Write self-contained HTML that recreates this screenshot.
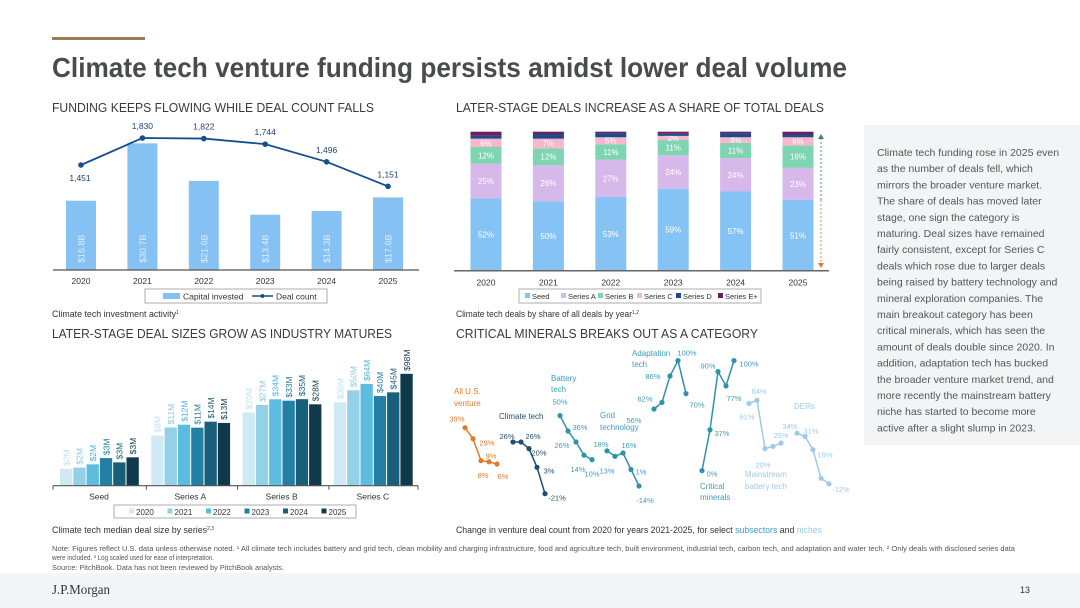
<!DOCTYPE html>
<html><head><meta charset="utf-8">
<style>
html,body{margin:0;padding:0;background:#fff;}
svg{display:block;font-family:"Liberation Sans",sans-serif;}
</style></head>
<body>
<svg id="s" width="1080" height="608" viewBox="0 0 1080 608" xmlns="http://www.w3.org/2000/svg">
<rect x="0" y="0" width="1080" height="608" fill="#fff"/>
<rect x="52" y="37" width="93" height="3" fill="#9b7a55"/>
<text x="52" y="77" font-size="28" font-weight="bold" fill="#4a4b4d" textLength="795" lengthAdjust="spacingAndGlyphs">Climate tech venture funding persists amidst lower deal volume</text>
<g font-size="13" fill="#3a3a3a">
<text x="52" y="112" textLength="322" lengthAdjust="spacingAndGlyphs">FUNDING KEEPS FLOWING WHILE DEAL COUNT FALLS</text>
<text x="456" y="112" textLength="368" lengthAdjust="spacingAndGlyphs">LATER-STAGE DEALS INCREASE AS A SHARE OF TOTAL DEALS</text>
<text x="52" y="338" textLength="340" lengthAdjust="spacingAndGlyphs">LATER-STAGE DEAL SIZES GROW AS INDUSTRY MATURES</text>
<text x="456" y="338" textLength="302" lengthAdjust="spacingAndGlyphs">CRITICAL MINERALS BREAKS OUT AS A CATEGORY</text>
</g>
<rect x="864" y="125" width="216" height="320" fill="#f3f4f6"/>
<g id="side" font-size="10.5" fill="#555"></g>
<g font-size="9" fill="#333">
<text x="52" y="317"><tspan textLength="124" lengthAdjust="spacingAndGlyphs">Climate tech investment activity</tspan><tspan font-size="5" dy="-3">1</tspan></text>
<text x="456" y="317"><tspan textLength="176" lengthAdjust="spacingAndGlyphs">Climate tech deals by share of all deals by year</tspan><tspan font-size="5" dy="-3">1,2</tspan></text>
<text x="52" y="533"><tspan textLength="155" lengthAdjust="spacingAndGlyphs">Climate tech median deal size by series</tspan><tspan font-size="5" dy="-3">2,3</tspan></text>
<text x="456" y="533" textLength="366" lengthAdjust="spacingAndGlyphs">Change in venture deal count from 2020 for years 2021-2025, for select <tspan fill="#3a9ec0">subsectors</tspan> and <tspan fill="#9fcbe8">niches</tspan></text>
</g>
<g font-size="7.5" fill="#555">
<text x="52" y="551" textLength="963" lengthAdjust="spacingAndGlyphs">Note: Figures reflect U.S. data unless otherwise noted. ¹ All climate tech includes battery and grid tech, clean mobility and charging infrastructure, food and agriculture tech, built environment, industrial tech, carbon tech, and adaptation and water tech. ² Only deals with disclosed series data</text>
<text x="52" y="560" textLength="162" lengthAdjust="spacingAndGlyphs">were included. ³ Log scaled used for ease of interpretation.</text>
<text x="52" y="570" textLength="232" lengthAdjust="spacingAndGlyphs">Source: PitchBook. Data has not been reviewed by PitchBook analysts.</text>
</g>
<rect x="0" y="573" width="1080" height="35" fill="#f4f5f6"/>
<text x="52" y="594" font-family="Liberation Serif,serif" font-size="14" fill="#333" textLength="58" lengthAdjust="spacingAndGlyphs">J.P.Morgan</text>
<text x="1020" y="593" font-size="9" fill="#333">13</text>
<g id="c1"></g><g id="c2"></g><g id="c3"></g><g id="c4"></g>
</svg>
<script>
// ---------- Chart 1 data ----------
const years1 = ['2020','2021','2022','2023','2024','2025'];
const capital = [16.8,30.7,21.6,13.4,14.3,17.6];
const capitalLabels = ['$16.8B','$30.7B','$21.6B','$13.4B','$14.3B','$17.6B'];
const deals = [1451,1830,1822,1744,1496,1151];
// ---------- Chart 2 data ----------
const years2 = ['2020','2021','2022','2023','2024','2025'];
const seriesNames2 = ['Seed','Series A','Series B','Series C','Series D','Series E+'];
const seedShare = [52,50,53,59,57,51];
const aShare = [25,26,27,24,24,23];
const bShare = [12,12,11,11,11,16];
const cShare = [6,7,5,3,4,6];
const dShare = [2,3,3,1.5,3,2];
const eShare = [3,2,1,1.5,1,2];
// ---------- Chart 3 data ----------
const cats3 = ['Seed','Series A','Series B','Series C'];
const years3 = ['2020','2021','2022','2023','2024','2025'];
const size2020 = [2.0,7.8,20.2,30.5];
const size2021 = [2.1,10.9,27.4,49.9];
const size2022 = [2.4,12.2,34.6,64.6];
const size2023 = [3.1,10.8,32.6,39.4];
const size2024 = [2.6,13.8,34.7,45.9];
const size2025 = [3.2,13.1,28.1,98];
const label2020 = ['$2M','$8M','$20M','$30M'];
const label2021 = ['$2M','$11M','$27M','$50M'];
const label2022 = ['$2M','$12M','$34M','$64M'];
const label2023 = ['$3M','$11M','$33M','$40M'];
const label2024 = ['$3M','$14M','$35M','$45M'];
const label2025 = ['$3M','$13M','$28M','$98M'];
// ---------- Chart 4 data ----------
const sectorNames = ['All U.S. venture','Climate tech','Battery tech','Grid technology','Adaptation tech','Critical minerals','Mainstream battery tech','DERs'];
const allUS = [39,29,9,8,6];
const climate = [26,26,20,3,-21];
const battery = [50,36,26,14,10];
const grid = [18,13,16,1,-14];
const adaptation = [56,62,86,100,70];
const minerals = [0,37,90,77,100];
const mainstream = [61,64,20,22,25];
const ders = [34,31,19,-7,-12];

const NS='http://www.w3.org/2000/svg';
function mk(parent,tag,attrs,txt){const e=document.createElementNS(NS,tag);for(const k in attrs)e.setAttribute(k,attrs[k]);if(txt!==undefined)e.textContent=txt;parent.appendChild(e);return e;}

// sidebar
const sideLines=['Climate tech funding rose in 2025 even','as the number of deals fell, which','mirrors the broader venture market.','The share of deals has moved later','stage, one sign the category is','maturing. Deal sizes have remained','fairly consistent, except for Series C','deals which rose due to larger deals','being raised by battery technology and','mineral exploration companies. The','main breakout category has been','critical minerals, which has seen the','amount of deals double since 2020.  In','addition, adaptation tech has bucked','the broader venture market trend, and','more recently the mainstream battery','niche has started to become more','active after a slight slump in 2023.'];
const side=document.getElementById('side');
sideLines.forEach((l,i)=>{const t=mk(side,'text',{x:877,y:156+i*16.2});t.textContent=l;

});

// ---------- Chart 1 ----------
(function(){
const g=document.getElementById('c1');
const base=270, k=4.125, x0=81, dx=61.4, bw=30;
const xAt=i=>x0+i*dx, yBar=v=>base-v*k, yLine=v=>165-(v-1451)*0.0712;
capital.forEach((v,i)=>{
 const r=mk(g,'rect',{x:xAt(i)-bw/2,y:yBar(v),width:bw,height:base-yBar(v),fill:'#86c1f3'});
 
 
 const t=mk(g,'text',{x:0,y:0,transform:`translate(${xAt(i)+3.5},${base-7}) rotate(-90)`,'font-size':9,fill:'#dcefff'},capitalLabels[i]);
 
 
 const yl=mk(g,'text',{x:xAt(i),y:base+14,'font-size':8.5,fill:'#333','text-anchor':'middle'},years1[i]);
 
 
});
mk(g,'line',{x1:53,y1:base,x2:419,y2:base,stroke:'#555','stroke-width':1.2});
const pts=deals.map((v,i)=>xAt(i)+','+yLine(v)).join(' ');
const pl=mk(g,'polyline',{points:pts,fill:'none',stroke:'#144f92','stroke-width':1.8});


deals.forEach((v,i)=>{
 const c=mk(g,'circle',{cx:xAt(i),cy:yLine(v),r:2.8,fill:'#144f92'});
 
 
 const below=i===0;
 const t=mk(g,'text',{x:xAt(i)-(i===0?1:0),y:below?yLine(v)+16:yLine(v)-9,'font-size':8.5,fill:'#1d3f73','text-anchor':'middle'},v.toLocaleString('en-US'));
 
 
});
const lg=mk(g,'g',{});


mk(lg,'rect',{x:145,y:289,width:182,height:14,fill:'#fff',stroke:'#999','stroke-width':0.8});
mk(lg,'rect',{x:163,y:293,width:17,height:6,fill:'#86c1f3'});
mk(lg,'text',{x:183,y:299.5,'font-size':8.5,fill:'#333'},'Capital invested');
mk(lg,'line',{x1:252,y1:296,x2:273,y2:296,stroke:'#144f92','stroke-width':1.5});
mk(lg,'circle',{cx:262.5,cy:296,r:2,fill:'#144f92'});
mk(lg,'text',{x:276,y:299.5,'font-size':8.5,fill:'#333'},'Deal count');
})();

// ---------- Chart 2 ----------
(function(){
const g=document.getElementById('c2');
const base=270.7, top=131.7, H=base-top, x0=486, dx=62.4, bw=31;
const cols=['#86c3f5','#d6b8ea','#7fd4b2','#f5b8ca','#1b4b8e','#6b1f5f'];
const sers=[seedShare,aShare,bShare,cShare,dShare,eShare];
const xAt=i=>x0+i*dx;
years2.forEach((yr,i)=>{
 let cum=0;
 sers.forEach((s,j)=>{
  const v=s[i], y1=base-(cum+v)/100*H, h=v/100*H;
  const r=mk(g,'rect',{x:xAt(i)-bw/2,y:y1,width:bw,height:h,fill:cols[j]});
  
  
  if(j<4){
   const t=mk(g,'text',{x:xAt(i),y:y1+h/2+3,'font-size':8,fill:'#fff','text-anchor':'middle'},Math.round(v)+'%');
   
   
  }
  cum+=v;
 });
 const yl=mk(g,'text',{x:xAt(i),y:base+15,'font-size':8.5,fill:'#333','text-anchor':'middle'},yr);
 
 
});
mk(g,'line',{x1:454,y1:base,x2:829,y2:base,stroke:'#666','stroke-width':1.5});
const ar=mk(g,'g',{});


mk(ar,'line',{x1:821,y1:138,x2:821,y2:200,stroke:'#3d8a5e','stroke-width':0.9,'stroke-dasharray':'2,2'});
mk(ar,'line',{x1:821,y1:200,x2:821,y2:264,stroke:'#e07b2a','stroke-width':0.9,'stroke-dasharray':'2,2'});
mk(ar,'polygon',{points:'818,139 824,139 821,134',fill:'#3d8a5e'});
mk(ar,'polygon',{points:'818,263 824,263 821,268',fill:'#e07b2a'});
const lg=mk(g,'g',{});


mk(lg,'rect',{x:519,y:289,width:242,height:14,fill:'#fff',stroke:'#999','stroke-width':0.8});
const lx=[525,561,598,637,676,718];
seriesNames2.forEach((n,j)=>{mk(lg,'rect',{x:lx[j],y:293,width:5,height:5,fill:cols[j]});mk(lg,'text',{x:lx[j]+7,y:299,'font-size':7.5,fill:'#333'},n);});
})();

// ---------- Chart 3 ----------
(function(){
const g=document.getElementById('c3');
const base=485.7, k=24.4, gx0=60, gdx=91.3, bdx=13.3, bw=12.3;
const cols=['#cfe9f5','#95d0e9','#5cbde0','#237fa3','#185f7a','#103a4c'];
const lcols=['#bfe0ee','#8ec8e2','#4fb3d9','#237fa3','#185f7a','#103a4c'];
const sizes=[size2020,size2021,size2022,size2023,size2024,size2025];
const labels=[label2020,label2021,label2022,label2023,label2024,label2025];
const yAt=v=>base-k*Math.log(v);
cats3.forEach((c,ci)=>{
 sizes.forEach((s,yi)=>{
  const x=gx0+ci*gdx+yi*bdx, y=yAt(s[ci]);
  const r=mk(g,'rect',{x:x,y:y,width:bw,height:base-y,fill:cols[yi]});
  
  
  const t=mk(g,'text',{x:0,y:0,transform:`translate(${x+bw/2+3.2},${y-3}) rotate(-90)`,'font-size':8.5,fill:lcols[yi]},labels[yi][ci]);
  
  
 });
 const cl=mk(g,'text',{x:99+ci*gdx,y:base+14,'font-size':8.5,fill:'#333','text-anchor':'middle'},c);
 
 
 mk(g,'line',{x1:53+ci*gdx+ (ci?2:0),y1:base,x2:53+ci*gdx+(ci?2:0),y2:base+4,stroke:'#555'});
});
mk(g,'line',{x1:418,y1:base,x2:418,y2:base+4,stroke:'#555'});
mk(g,'line',{x1:53,y1:base,x2:418,y2:base,stroke:'#555','stroke-width':1.2});
const lg=mk(g,'g',{});


mk(lg,'rect',{x:114,y:505,width:242,height:13,fill:'#fff',stroke:'#999','stroke-width':0.8});
years3.forEach((yr,j)=>{const x=129+j*38.5;mk(lg,'rect',{x:x,y:508.5,width:5,height:5,fill:cols[j]});mk(lg,'text',{x:x+7,y:515,'font-size':8,fill:'#333'},yr);});
})();

// ---------- Chart 4 ----------
(function(){
const g=document.getElementById('c4');
const zero=470.6, k=1.1, dx=8;
const yAt=v=>zero-v*k;
const starts=[465,513,560,607,654,702,749,797];
const data=[allUS,climate,battery,grid,adaptation,minerals,mainstream,ders];
const cols=['#e07b2a','#1f4f6e','#2f93ab','#2f93ab','#2f93ab','#2f93ab','#9fcbe8','#9fcbe8'];
const lcols=['#e07b2a','#1f4f6e','#3a9ec0','#3a9ec0','#3a9ec0','#3a9ec0','#9fcbe8','#9fcbe8'];
const offs=[
 [[-8,-9],[14,4],[10,-5],[-6,13],[6,12]],
 [[-6,-6],[12,-6],[10,4],[12,3],[12,4]],
 [[0,-14],[12,-4],[-14,3],[-6,14],[0,14]],
 [[-6,-7],[-8,14],[6,-8],[10,2],[6,14]],
 [[-20,11],[-17,-4],[-17,0],[9,-8],[11,11]],
 [[10,3],[12,3],[-10,-6],[8,12],[15,3]],
 [[-2,13],[2,-9],[-2,16],[0,0],[0,-8]],
 [[-7,-7],[6,-6],[12,5],[0,0],[12,5]]
];
data.forEach((s,si)=>{
 const pts=s.map((v,i)=>(starts[si]+i*dx)+','+yAt(v)).join(' ');
 const pl=mk(g,'polyline',{points:pts,fill:'none',stroke:cols[si],'stroke-width':1.5});
 
 
 s.forEach((v,i)=>{
  const x=starts[si]+i*dx, y=yAt(v);
  const c=mk(g,'circle',{cx:x,cy:y,r:2.6,fill:cols[si]});
  
  
  if(!(si===6&&i===3)&&!(si===7&&i===3)){
   const o=offs[si][i];
   const t=mk(g,'text',{x:x+o[0],y:y+o[1]+3,'font-size':7.5,fill:lcols[si],'text-anchor':'middle'},v+'%');
   
   
  }
 });
});
const names=[
 ['All U.S.',454,394,0],['venture',454,406,0],['Climate tech',499,419,1],['Battery',551,381,2],['tech',551,392,2],
 ['Grid',600,418,3],['technology',600,430,3],['Adaptation',632,356,4],['tech',632,367,4],
 ['Critical',700,489,5],['minerals',700,500,5],['Mainstream',745,477,6],['battery tech',745,489,6],['DERs',794,409,7]];
names.forEach(n=>{const t=mk(g,'text',{x:n[1],y:n[2],'font-size':8,fill:lcols[n[3]]},n[0]);
 
 });
})();
</script>
</body></html>
